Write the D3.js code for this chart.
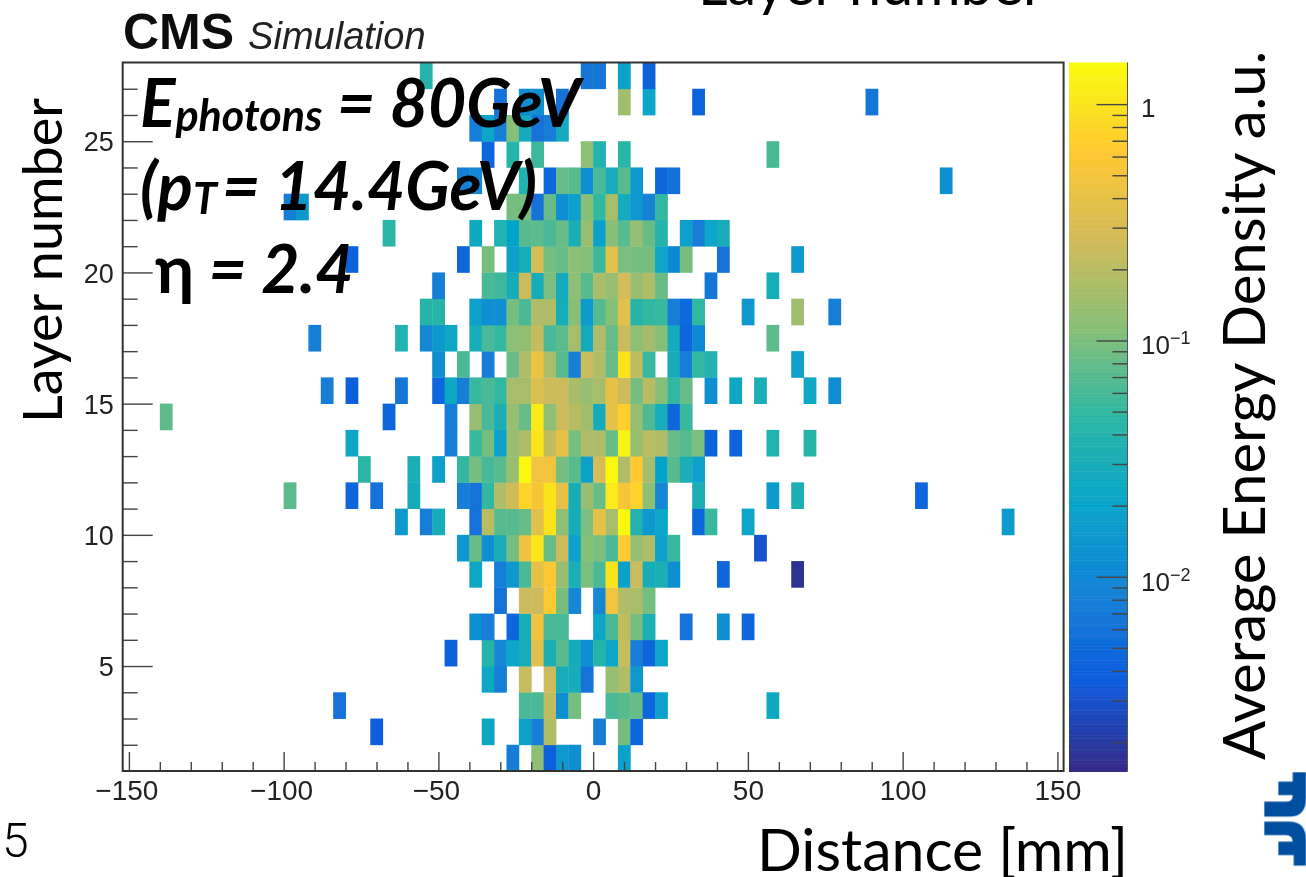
<!DOCTYPE html>
<html>
<head>
<meta charset="utf-8">
<script src="https://cdn.jsdelivr.net/npm/d3@7"></script>
<style>
  html, body { margin: 0; padding: 0; background: #fff; }
  svg { display: block; }
  .root { font-family: "Liberation Sans", sans-serif; fill: #222; }
  .slide { font-family: Lato, sans-serif; fill: #000; }
  .note { font-family: Lato, sans-serif; font-weight: 700; font-style: italic; fill: #000; }
  .axis path { display: none; }
  .axis line { stroke: #444; stroke-width: 1.4; }
  .axis text { font-family: "Liberation Sans", sans-serif; font-size: 27px; fill: #222; }
  .axis.xlabels text { font-size: 28px; }
</style>
</head>
<body>
<svg width="1306" height="877"></svg>
<script>
// [left edge of distance bin in mm, average energy density], one array per layer
const layer27 = [[-56, .04], [-4, .0065], [0, .0065], [8, .018], [16, .0042]]
const layer26 = [[-32, .006], [-24, .012], [-20, .012], [-12, .006], [8, .15], [16, .021], [32, .0042], [88, .0065]]
const layer25 = [[-40, .0079], [-36, .021], [-32, .0079], [-28, .11], [-24, .026], [-20, .006], [-16, .0079], [-12, .026]]
const layer24 = [[-36, .0045], [-28, .042], [-20, .055], [-4, .12], [0, .037], [8, .045], [56, .062]]
const layer23 = [[-44, .0079], [-40, .0097], [-24, .037], [-16, .0045], [-12, .08], [-8, .072], [-4, .012], [0, .061], [4, .03], [8, .072], [12, .015], [20, .0045], [24, .0055], [112, .012]]
const layer22 = [[-100, .0079], [-96, .015], [-28, .095], [-24, .095], [-20, .0055], [-16, .083], [-12, .012], [-8, .018], [-4, .11], [0, .05], [4, .165], [8, .026], [12, .014], [16, .0085], [20, .05]]
const layer21 = [[-68, .045], [-40, .025], [-32, .037], [-28, .02], [-24, .072], [-20, .075], [-16, .061], [-12, .083], [-8, .032], [-4, .14], [0, .018], [4, .11], [8, .072], [12, .135], [16, .083], [20, .04], [28, .018], [32, .0079], [36, .021], [40, .03]]
const layer20 = [[-80, .0042], [-44, .0045], [-36, .095], [-28, .018], [-24, .03], [-20, .3], [-16, .095], [-12, .083], [-8, .12], [-4, .11], [0, .055], [4, .36], [8, .1], [12, .095], [16, .095], [20, .021], [24, .01], [28, .095], [40, .006], [64, .015]]
const layer19 = [[-52, .0079], [-36, .061], [-32, .055], [-28, .03], [-24, .25], [-20, .03], [-16, .1], [-12, .026], [-8, .12], [-4, .072], [0, .17], [4, .135], [8, .27], [12, .135], [16, .18], [20, .083], [36, .0065], [56, .03]]
const layer18 = [[-56, .042], [-52, .042], [-40, .018], [-36, .012], [-32, .012], [-28, .095], [-24, .062], [-20, .18], [-16, .18], [-12, .03], [-8, .11], [-4, .016], [0, .068], [4, .11], [8, .36], [12, .042], [16, .05], [20, .052], [24, .0079], [28, .005], [32, .05], [48, .015], [64, .15], [76, .0079]]
const layer17 = [[-92, .0079], [-64, .037], [-56, .0097], [-52, .015], [-48, .023], [-40, .03], [-36, .061], [-32, .05], [-28, .12], [-24, .13], [-20, .23], [-16, .061], [-12, .075], [-8, .165], [-4, .026], [0, .18], [4, .083], [8, .25], [12, .12], [16, .16], [20, .11], [24, .026], [28, .0045], [32, .01], [56, .075]]
const layer16 = [[-52, .012], [-44, .062], [-36, .0079], [-28, .083], [-24, .18], [-20, .46], [-16, .165], [-12, .072], [-8, .0079], [-4, .25], [0, .18], [4, .083], [8, 1], [12, .22], [16, .052], [24, .03], [28, .0079], [32, .05], [36, .037], [64, .018]]
const layer15 = [[-88, .0079], [-80, .0039], [-64, .0065], [-52, .0045], [-48, .023], [-44, .0079], [-40, .052], [-36, .061], [-32, .05], [-28, .165], [-24, .165], [-20, .33], [-16, .25], [-12, .25], [-8, .165], [-4, .135], [0, .165], [4, .41], [8, .26], [12, .095], [16, .2], [20, .11], [24, .05], [28, .083], [36, .012], [44, .023], [52, .032], [68, .023], [76, .012]]
const layer14 = [[-140, .075], [-68, .0045], [-48, .0079], [-40, .135], [-36, .061], [-32, .032], [-28, .135], [-24, .083], [-20, 1.15], [-16, .12], [-12, .25], [-8, .2], [-4, .15], [0, .026], [4, .41], [8, .7], [12, .135], [16, .065], [20, .03], [24, .0045], [28, .052]]
const layer13 = [[-80, .021], [-48, .0079], [-40, .052], [-36, .095], [-32, .018], [-28, .135], [-24, .18], [-20, 1.05], [-16, .22], [-12, .41], [-8, .095], [-4, .18], [0, .18], [4, .083], [8, 1.3], [12, .135], [16, .2], [20, .18], [24, .083], [28, .072], [32, .1], [36, .0042], [44, .0042], [56, .037], [68, .042]]
const layer12 = [[-76, .045], [-60, .032], [-52, .018], [-44, .05], [-40, .095], [-36, .06], [-32, .072], [-28, .135], [-24, 1.45], [-20, .5], [-16, .5], [-12, .095], [-8, .072], [-4, .018], [0, .3], [4, 1.45], [8, .18], [12, .64], [16, .165], [20, .02], [24, .072], [28, .032], [32, .018]]
const layer11 = [[-100, .075], [-80, .0045], [-72, .006], [-60, .028], [-44, .0079], [-40, .006], [-36, .05], [-32, .18], [-28, .26], [-24, .77], [-20, .55], [-16, 1], [-12, .41], [-8, .03], [-4, .135], [0, .083], [4, 1.1], [8, .55], [12, .75], [16, .12], [20, .0097], [32, .032], [56, .016], [64, .034], [104, .0045]]
const layer10 = [[-64, .015], [-56, .0079], [-52, .03], [-40, .006], [-36, .2], [-32, .072], [-28, .072], [-24, .083], [-20, .36], [-16, 1], [-12, .12], [-8, .03], [-4, .1], [0, .41], [4, .165], [8, 1.45], [12, .035], [16, .015], [20, .021], [32, .0045], [36, .052], [48, .021], [132, .016]]
const layer9 = [[-44, .015], [-40, .083], [-36, .012], [-32, .03], [-28, .095], [-24, .46], [-20, 1.05], [-16, .083], [-12, .25], [-8, .019], [-4, .11], [0, .1], [4, .061], [8, .64], [12, .135], [16, .18], [20, .018], [24, .052], [52, .003]]
const layer8 = [[-40, .023], [-32, .0079], [-28, .015], [-24, .061], [-20, .41], [-16, .6], [-12, .14], [-8, .032], [-4, .1], [0, .061], [4, 1], [8, .018], [12, .25], [16, .03], [20, .032], [24, .012], [40, .0045], [64, .0017]]
const layer7 = [[-32, .006], [-24, .25], [-20, .25], [-16, .64], [-12, .095], [-8, .0097], [0, .0097], [4, .5], [8, .18], [12, .165], [16, .095]]
const layer6 = [[-40, .012], [-36, .0079], [-28, .0045], [-24, .03], [-20, .5], [-16, .061], [-12, .061], [0, .021], [4, .061], [8, .22], [12, .095], [16, .032], [28, .006], [40, .012], [48, .0045]]
const layer5 = [[-48, .0038], [-36, .042], [-32, .0097], [-28, .021], [-24, .03], [-20, .36], [-16, .032], [-12, .072], [-8, .028], [-4, .012], [0, .042], [4, .021], [8, .23], [12, .0079], [16, .0045], [20, .021]]
const layer4 = [[-36, .023], [-32, .0079], [-24, .23], [-16, .25], [-12, .03], [-8, .03], [-4, .006], [4, .135], [8, .18], [12, .015]]
const layer3 = [[-84, .006], [-24, .061], [-20, .061], [-16, .22], [-12, .012], [-8, .095], [4, .061], [8, .072], [12, .083], [16, .0045], [20, .018], [56, .025]]
const layer2 = [[-72, .0038], [-36, .023], [-24, .018], [-20, .0079], [-16, .18], [0, .0079], [8, .095], [12, .0045]]
const layer1 = [[-28, .0079], [-20, .12], [-16, .0037], [-12, .015], [-8, .012], [8, .018]]

const layerRows = [layer1, layer2, layer3, layer4, layer5, layer6, layer7, layer8, layer9,
  layer10, layer11, layer12, layer13, layer14, layer15, layer16, layer17, layer18,
  layer19, layer20, layer21, layer22, layer23, layer24, layer25, layer26, layer27]

const xMajor = [-150, -100, -50, 0, 50, 100, 150]
const xMinor = [-140, -130, -120, -110, -90, -80, -70, -60, -40, -30, -20, -10, 10, 20, 30, 40, 60, 70, 80, 90, 110, 120, 130, 140]
const yMajor = [5, 10, 15, 20, 25]
const yMinor = [2, 3, 4, 6, 7, 8, 9, 11, 12, 13, 14, 16, 17, 18, 19, 21, 22, 23, 24, 26, 27]
const zMajor = [1, 0.1, 0.01]
const zMinor = [0.9, 0.8, 0.7, 0.6, 0.5, 0.4, 0.3, 0.2, 0.09, 0.08, 0.07, 0.06, 0.05, 0.04, 0.03, 0.02,
  0.009, 0.008, 0.007, 0.006, 0.005, 0.004, 0.003, 0.002]
// ROOT kBird palette
const birdColors = ['#352a87', '#0f5cdd', '#1481d6', '#06a4ca', '#2eb7a4', '#87bf77', '#d1bb59', '#fec832', '#f9fb0e']

const binWidth = 4
const plotLeft = 122.7
const plotRight = 1063.6
const plotTop = 62.5
const plotBottom = 771
const barLeft = 1069
const barRight = 1127.5
const barBottom = 771.5

const svg = d3.select('svg')

const x = d3.scaleLinear().domain([-152, 152]).range([plotLeft, plotRight])
const y = d3.scaleLinear().domain([1, 28]).range([plotBottom, plotTop])
const z = d3.scaleLog().domain([0.0015, 1.5]).range([barBottom, plotTop])
const colorAt = d3.scaleLinear()
  .domain(birdColors.map((c, i) => i / (birdColors.length - 1)))
  .range(birdColors)
  .interpolate(d3.interpolateRgb)
const color = v => colorAt((z(v) - barBottom) / (plotTop - barBottom))

const cells = []
layerRows.forEach((row, i) => {
  row.forEach(d => cells.push({ layer: i + 1, dist: d[0], value: d[1] }))
})

const blur = svg.append('defs').append('filter')
  .attr('id', 'soft')
  .attr('x', '-5%').attr('y', '-5%').attr('width', '110%').attr('height', '110%')
blur.append('feGaussianBlur').attr('stdDeviation', 0.6)

const chart = svg.append('g').attr('filter', 'url(#soft)')

// the extra 0.4 closes the antialiasing seams between touching bins
chart.append('g').selectAll('rect')
  .data(cells)
  .join('rect')
  .attr('x', d => x(d.dist))
  .attr('y', d => y(d.layer + 1))
  .attr('width', d => x(d.dist + binWidth) - x(d.dist) + 0.4)
  .attr('height', d => y(d.layer) - y(d.layer + 1) + 0.4)
  .attr('fill', d => color(d.value))

// colour bar
const barSteps = d3.range(255)
chart.append('g').selectAll('rect')
  .data(barSteps)
  .join('rect')
  .attr('x', barLeft)
  .attr('width', barRight - barLeft)
  .attr('y', d => plotTop + (barBottom - plotTop) * (254 - d) / 255)
  .attr('height', (barBottom - plotTop) / 255 + 0.5)
  .attr('fill', d => colorAt(d / 254))

// x axis
chart.append('g').attr('class', 'axis')
  .attr('transform', `translate(0,${plotBottom})`)
  .call(d3.axisTop(x).tickValues(xMinor).tickSize(9).tickFormat(''))
chart.append('g').attr('class', 'axis')
  .attr('transform', `translate(0,${plotBottom})`)
  .call(d3.axisTop(x).tickValues(xMajor).tickSize(19).tickFormat(''))
chart.append('g').attr('class', 'axis xlabels')
  .attr('transform', `translate(0,${plotBottom})`)
  .call(d3.axisBottom(x).tickValues(xMajor).tickSize(0).tickPadding(9)
    .tickFormat(d => String(d).replace('-', '\u2212')))
  .selectAll('text')
  .attr('x', d => d < 0 ? -2.5 : 0)

// y axis
chart.append('g').attr('class', 'axis')
  .attr('transform', `translate(${plotLeft},0)`)
  .call(d3.axisRight(y).tickValues(yMinor).tickSize(15).tickFormat(''))
chart.append('g').attr('class', 'axis')
  .attr('transform', `translate(${plotLeft},0)`)
  .call(d3.axisRight(y).tickValues(yMajor).tickSize(30).tickFormat(''))
chart.append('g').attr('class', 'axis')
  .attr('transform', `translate(${plotLeft},1)`)
  .call(d3.axisLeft(y).tickValues(yMajor).tickSize(0).tickPadding(9))

// frame
chart.append('rect')
  .attr('x', plotLeft).attr('y', plotTop)
  .attr('width', plotRight - plotLeft).attr('height', plotBottom - plotTop)
  .attr('fill', 'none').attr('stroke', '#333').attr('stroke-width', 2)

// colour bar ticks
chart.append('g').attr('class', 'axis')
  .attr('transform', `translate(${barRight},0)`)
  .call(d3.axisLeft(z).tickValues(zMinor).tickSize(15).tickFormat(''))
chart.append('g').attr('class', 'axis')
  .attr('transform', `translate(${barRight},0)`)
  .call(d3.axisLeft(z).tickValues(zMajor).tickSize(31).tickFormat(''))
chart.append('line')
  .attr('x1', barRight).attr('x2', barRight)
  .attr('y1', plotTop).attr('y2', barBottom)
  .attr('stroke', '#555').attr('stroke-width', 1)

const zLabels = chart.append('g').attr('class', 'root').attr('font-size', 26)
zLabels.append('text').attr('x', 1141).attr('y', z(1) + 13).text('1')
const powers = [[0.1, '\u22121'], [0.01, '\u22122']]
powers.forEach(p => {
  const t = zLabels.append('text').attr('x', 1141).attr('y', z(p[0]) + 14).text('10')
  t.append('tspan').attr('font-size', 18).attr('dy', -10).text(p[1])
})

// header
const head = chart.append('text').attr('class', 'root').attr('x', 123).attr('y', 49)
head.append('tspan').attr('font-size', 50).attr('font-weight', 700).attr('fill', '#111').text('CMS')
head.append('tspan').attr('font-size', 38).attr('font-style', 'italic').attr('dx', 14).text('Simulation')

// slide text on top of the plot
const slideText = svg.append('g').attr('filter', 'url(#soft)')
slideText.append('text').attr('class', 'slide').attr('font-size', 54)
  .attr('transform', 'translate(62,423) rotate(-90)').text('Layer number')
slideText.append('text').attr('class', 'slide').attr('font-size', 58)
  .attr('transform', 'translate(1265,760) rotate(-90)').text('Average Energy Density a.u.')
slideText.append('text').attr('class', 'slide').attr('font-size', 59)
  .attr('x', 757).attr('y', 871).text('Distance [mm]')
slideText.append('text').attr('class', 'slide').attr('font-size', 57.5)
  .attr('x', 698).attr('y', 4.5).text('Layer number')
slideText.append('text').attr('font-family', 'Roboto').attr('font-size', 48).attr('font-weight', 300)
  .attr('x', 2).attr('y', 857).text('5')

const line1 = slideText.append('text').attr('class', 'note').attr('font-size', 66).attr('x', 140).attr('y', 127)
line1.append('tspan').text('E')
line1.append('tspan').attr('font-size', 43).attr('dy', 4).text('photons')
line1.append('tspan').attr('dy', -4).text(' = 80GeV')

const line2 = slideText.append('text').attr('class', 'note').attr('font-size', 66).attr('x', 140).attr('y', 210)
line2.append('tspan').text('(p')
line2.append('tspan').attr('font-size', 43).attr('dy', 4).text('T')
line2.append('tspan').attr('dy', -4).attr('dx', 5).text('= 14.4GeV)')

const line3 = slideText.append('text').attr('class', 'note').attr('font-size', 66).attr('x', 155).attr('y', 293)
line3.append('tspan').attr('font-style', 'normal').text('\u03b7')
line3.append('tspan').text(' = 2.4')

// logo, clipped by the right edge of the slide
const logo = svg.append('g').attr('transform', 'translate(1246,760) scale(0.3333)').attr('fill', '#004f9f')
logo.append('path').attr('d', 'M140,37H180V115Q180,170 130,170H55V125H120Q140,125 140,105H97V65H140Z')
logo.append('path').attr('d', 'M55,185H130Q180,185 180,240V317H143V285H97V245H140Q140,225 120,225H55Z')
</script>
</body>
</html>
